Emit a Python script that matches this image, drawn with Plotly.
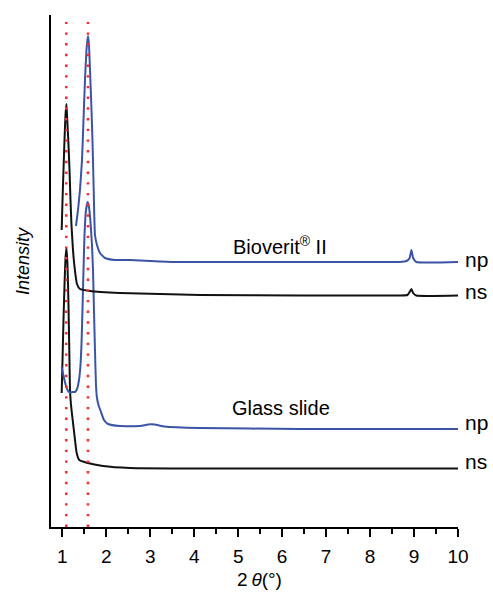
import plotly.graph_objects as go

# 2theta (deg) and intensity (arbitrary units, stacked offsets included)
bio_np_x = [1.311, 1.357, 1.402, 1.448, 1.482, 1.516, 1.55, 1.584, 1.607, 1.63, 1.664, 1.686, 1.709, 1.727,
            1.743, 1.789, 1.857, 1.97, 2.2, 2.54, 3.0, 3.56, 5.27, 7.54, 8.67, 8.83, 8.9, 8.94, 8.98, 9.05, 10.0]
bio_np_y = [301, 317, 337, 367, 407, 447, 477, 491, 482, 457, 417, 387, 347, 312,
            292, 282, 274, 269, 267, 267, 266, 265, 265, 265, 265, 266, 269, 277, 269, 265, 265]

bio_ns_x = [0.986, 1.005, 1.027, 1.05, 1.073, 1.095, 1.118, 1.136, 1.164, 1.186, 1.209, 1.243, 1.266, 1.30,
            1.334, 1.402, 1.63, 2.31, 4.13, 6.4, 8.67, 8.85, 8.9, 8.94, 8.98, 9.05, 10.0]
bio_ns_y = [297, 327, 357, 387, 412, 423, 402, 387, 357, 327, 302, 277, 265, 252,
            243, 238, 236, 234, 232, 231.5, 231.5, 232, 235, 238, 234, 231.5, 231.5]

gls_np_x = [0.986, 1.039, 1.084, 1.13, 1.175, 1.232, 1.289, 1.334, 1.38, 1.414, 1.436, 1.459, 1.482, 1.505,
            1.539, 1.577, 1.607, 1.641, 1.675, 1.698, 1.72, 1.743, 1.766, 1.789, 1.823, 1.88, 1.948, 2.04,
            2.31, 2.77, 2.95, 3.1, 3.33, 4.13, 6.4, 10.0]
gls_np_y = [160, 149, 141, 136, 134.5, 135, 135, 138, 147, 162, 182, 217, 257, 292,
            317, 325, 320, 305, 282, 257, 217, 177, 142, 129, 122, 115, 107, 103,
            101, 101, 102.5, 102.5, 100.5, 99, 98, 98]

gls_ns_x = [0.986, 1.005, 1.027, 1.05, 1.073, 1.095, 1.118, 1.141, 1.159, 1.175, 1.198, 1.236, 1.289, 1.327,
            1.386, 1.555, 1.925, 2.54, 4.13, 10.0]
gls_ns_y = [134, 167, 207, 242, 269, 279, 262, 222, 177, 137, 122, 107, 87, 74,
            67, 64.3, 61, 59, 58.5, 58.5]

ref_lines_x = [1.09, 1.584]
ref_line_top = 505

tick_vals = [1, 2, 3, 4, 5, 6, 7, 8, 9, 10]
tick_text = [str(v) for v in tick_vals]

BLUE = "#3b54a6"
BLACK = "#111111"
RED = "#ff2a2a"
FONT = "Liberation Sans, Arial, sans-serif"

W, H = 493, 598
L, R, T, B = 51, 35, 15, 71
PW, PH = W - L - R, H - T - B       # 407 x 512


def px(xp):
    return (xp - L) / PW


def py(yp):
    return 1 - (yp - T) / PH


fig = go.Figure()
for xs, ys, col in [(gls_ns_x, gls_ns_y, BLACK), (gls_np_x, gls_np_y, BLUE),
                    (bio_ns_x, bio_ns_y, BLACK), (bio_np_x, bio_np_y, BLUE)]:
    fig.add_trace(go.Scatter(x=xs, y=ys, mode="lines",
                             line=dict(color=col, width=2, shape="spline", smoothing=0.4),
                             hoverinfo="skip", showlegend=False))
for xv in ref_lines_x:
    fig.add_trace(go.Scatter(x=[xv, xv], y=[0, ref_line_top], mode="lines",
                             line=dict(color=RED, width=2.6, dash="2.4px,8.3px"),
                             hoverinfo="skip", showlegend=False))

fig.update_layout(
    width=W, height=H,
    margin=dict(l=L, r=R, t=T, b=B, autoexpand=False),
    paper_bgcolor="white", plot_bgcolor="white",
    font=dict(family=FONT, size=19, color="black"),
    xaxis=dict(range=[0.743, 10.0], tickvals=tick_vals, ticktext=tick_text,
               showline=True, linecolor="black", linewidth=2, ticks="outside", ticklen=8,
               tickwidth=2, tickcolor="black", showgrid=False, zeroline=False,
               ticklabelstandoff=3,
               tickfont=dict(size=19, family=FONT, color="black"),
               minor=dict(dtick=0.5, tick0=0.5, ticks="outside", ticklen=5, tickwidth=2,
                          tickcolor="black", showgrid=False)),
    yaxis=dict(range=[0, 512], showline=True, linecolor="black", linewidth=2, ticks="",
               showticklabels=False, showgrid=False, zeroline=False),
)

side_labels = [("np", 259), ("ns", 291.5), ("np", 422.5), ("ns", 461.5)]
for txt, yp in side_labels:
    fig.add_annotation(x=px(464), y=py(yp), text=txt, xref="paper", yref="paper",
                       xanchor="left", yanchor="middle", showarrow=False, borderpad=0,
                       font=dict(size=21, family=FONT, color="black"))

fig.add_annotation(x=px(231), y=py(245), text="Bioverit<sup>®</sup> II", xref="paper", yref="paper",
                   xanchor="left", yanchor="middle", showarrow=False,
                   font=dict(size=20, family=FONT, color="black"))
fig.add_annotation(x=px(230), y=py(408), text="Glass slide", xref="paper", yref="paper",
                   xanchor="left", yanchor="middle", showarrow=False,
                   font=dict(size=20, family=FONT, color="black"))
fig.add_annotation(x=px(23), y=py(261), text="<i>Intensity</i>", xref="paper", yref="paper",
                   xanchor="center", yanchor="middle", showarrow=False, textangle=-90,
                   font=dict(size=18, family=FONT, color="black"))
fig.add_annotation(x=px(259), y=py(579), text="2\u2009<i>θ</i>(°)", xref="paper", yref="paper",
                   xanchor="center", yanchor="middle", showarrow=False,
                   font=dict(size=19, family=FONT, color="black"))

# remove the default 8px page margin so the figure fills the 493x598 window exactly
fig.write_html("out.html", config={"displayModeBar": False},
               post_script="document.body.style.margin='0px';document.body.style.overflow='hidden';")
